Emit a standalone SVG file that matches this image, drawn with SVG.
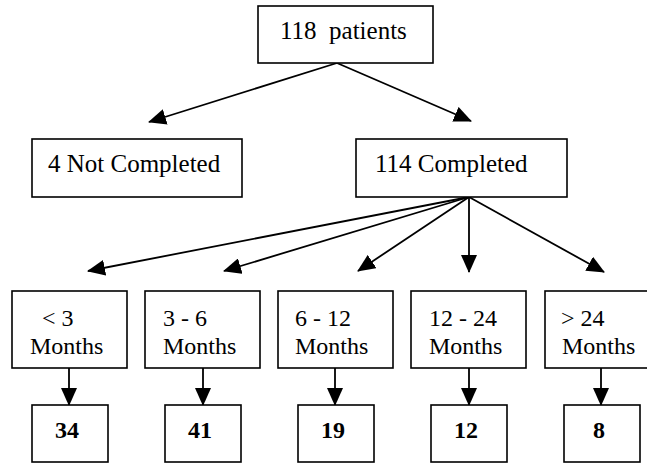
<svg xmlns="http://www.w3.org/2000/svg" width="647" height="463" viewBox="0 0 647 463">
<style>
  .box { fill: #fff; stroke: #000; stroke-width: 1.6; }
  .t { font-size: 25px; }
  .s { font-size: 24px; }
  .n { font-size: 24px; font-weight: bold; text-anchor: middle; }
  .c { stroke: #000; stroke-width: 1.8; fill: none; marker-end: url(#ah); }
</style>
<defs>
  <marker id="ah" viewBox="0 0 18 16" refX="17" refY="8" markerUnits="userSpaceOnUse" markerWidth="18" markerHeight="16" orient="auto">
    <path d="M0,0 L18,8 L0,16 Z" fill="#000"/>
  </marker>
</defs>
<rect width="647" height="463" fill="#fff"/>
<g id="connectors">
  <line class="c" x1="337" y1="63" x2="149" y2="122"/>
  <line class="c" x1="337" y1="63" x2="471" y2="121"/>
  <line class="c" x1="469" y1="197" x2="88" y2="271"/>
  <line class="c" x1="469" y1="197" x2="224" y2="271"/>
  <line class="c" x1="469" y1="197" x2="358" y2="271"/>
  <line class="c" x1="469" y1="197" x2="469" y2="272"/>
  <line class="c" x1="469" y1="197" x2="604" y2="272"/>
  <line class="c" x1="69" y1="368" x2="69" y2="405"/>
  <line class="c" x1="203" y1="368" x2="203" y2="405"/>
  <line class="c" x1="335" y1="368" x2="335" y2="405"/>
  <line class="c" x1="469" y1="368" x2="469" y2="405"/>
  <line class="c" x1="601" y1="368" x2="601" y2="405"/>
</g>
<g font-family="Liberation Serif, Times New Roman, serif" fill="#000">
<g id="n-patients">
  <rect class="box" x="258" y="6" width="175" height="57"/>
  <text class="t" x="280" y="39" xml:space="preserve">118  patients</text>
</g>
<g id="n-notcompleted">
  <rect class="box" x="32" y="139" width="210" height="58"/>
  <text class="t" x="48" y="172">4 Not Completed</text>
</g>
<g id="n-completed">
  <rect class="box" x="356" y="139" width="211" height="58"/>
  <text class="t" x="375" y="172">114 Completed</text>
</g>
<g id="n-lt3">
  <rect class="box" x="12" y="291" width="115" height="77"/>
  <text class="s" x="42" y="326">&lt; 3</text>
  <text class="s" x="30" y="354">Months</text>
</g>
<g id="n-3to6">
  <rect class="box" x="145" y="291" width="115" height="77"/>
  <text class="s" x="163" y="326">3 - 6</text>
  <text class="s" x="163" y="354">Months</text>
</g>
<g id="n-6to12">
  <rect class="box" x="278" y="291" width="115" height="77"/>
  <text class="s" x="295" y="326">6 - 12</text>
  <text class="s" x="295" y="354">Months</text>
</g>
<g id="n-12to24">
  <rect class="box" x="411" y="291" width="115" height="77"/>
  <text class="s" x="429" y="326">12 - 24</text>
  <text class="s" x="429" y="354">Months</text>
</g>
<g id="n-gt24">
  <rect class="box" x="545" y="291" width="115" height="77"/>
  <text class="s" x="561" y="326">&gt; 24</text>
  <text class="s" x="562" y="354">Months</text>
</g>
<g id="n-34">
  <rect class="box" x="32" y="405" width="76" height="57"/>
  <text class="n" x="67" y="438">34</text>
</g>
<g id="n-41">
  <rect class="box" x="165" y="405" width="76" height="57"/>
  <text class="n" x="200" y="438">41</text>
</g>
<g id="n-19">
  <rect class="box" x="298" y="405" width="76" height="57"/>
  <text class="n" x="333" y="438">19</text>
</g>
<g id="n-12">
  <rect class="box" x="431" y="405" width="76" height="57"/>
  <text class="n" x="466" y="438">12</text>
</g>
<g id="n-8">
  <rect class="box" x="564" y="405" width="76" height="57"/>
  <text class="n" x="599" y="438">8</text>
</g>
</g>
</svg>
